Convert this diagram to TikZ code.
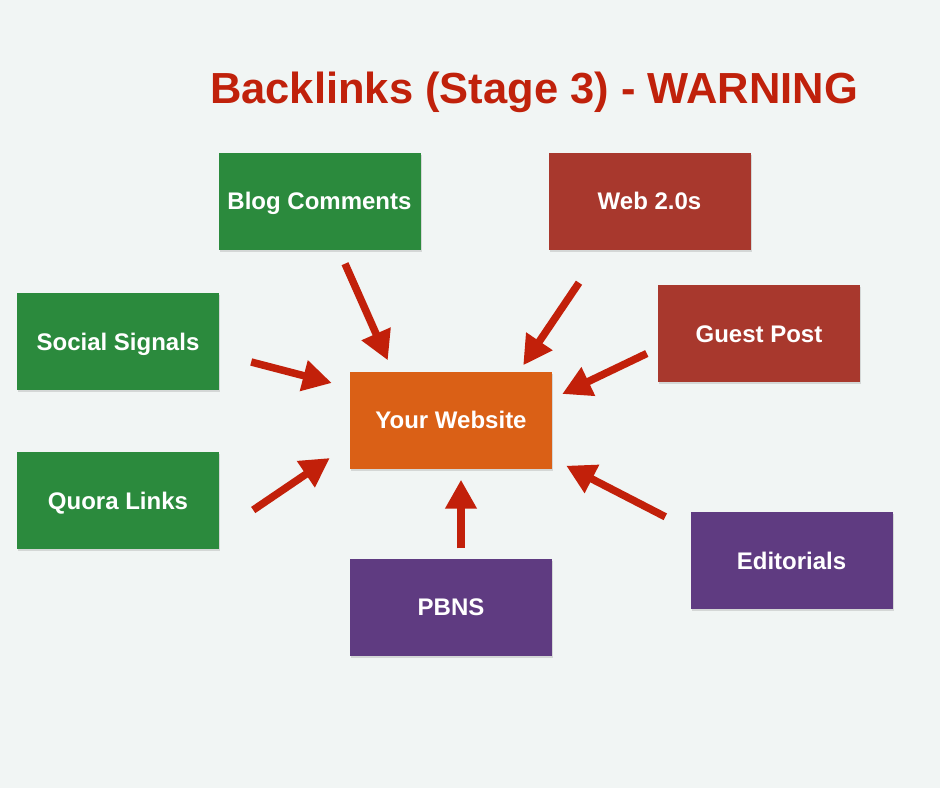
\documentclass[tikz,border=0pt]{standalone}
\usepackage{fontspec}
\setmainfont{Liberation Sans}
\usetikzlibrary{arrows.meta,calc,shadows}

\definecolor{bgcol}{HTML}{F1F5F4}
\definecolor{titlered}{HTML}{C0210B}
\definecolor{arrowred}{HTML}{C2200A}
\definecolor{boxgreen}{HTML}{2B8A3D}
\definecolor{boxbrick}{HTML}{A8382D}
\definecolor{boxorange}{HTML}{DA6016}
\definecolor{boxpurple}{HTML}{5F3B81}

\begin{document}
\begin{tikzpicture}[x=1pt,y=-1pt,
    box/.style={rectangle, minimum width=202pt, minimum height=97pt, inner sep=0pt,
      text height=17.5pt, text depth=0pt,
      text=white, font=\fontsize{24}{28}\selectfont\bfseries,
      drop shadow={shadow xshift=1pt, shadow yshift=-2pt, opacity=0.25}},
    link/.style={line width=7.5pt, arrowred, -{Triangle[length=29pt,width=30pt]}}]
    \fill[bgcol] (0,0) rectangle (940,788); % background
    \node[anchor=base, text=titlered, font=\fontsize{43.5}{50}\selectfont\bfseries] (title) at (534,103.5) {Backlinks (Stage 3) - WARNING}; % title

    \node[box, fill=boxorange] (site) at (451,420) {Your Website}; % center
    \node[box, fill=boxgreen] (blog) at (319.5,201) {Blog Comments};
    \node[box, fill=boxbrick] (web) at (649.5,201) {Web 2.0s};
    \node[box, fill=boxgreen] (social) at (118,341.5) {Social Signals};
    \node[box, fill=boxbrick] (guest) at (759,333.5) {Guest Post};
    \node[box, fill=boxgreen] (quora) at (118,500.5) {Quora Links};
    \node[box, fill=boxpurple] (pbns) at (451,607) {PBNS};
    \node[box, fill=boxpurple] (edit) at (791.5,560.5) {Editorials};

    \draw[link] ($(blog.south)+(25.5,14)$) -- ($(site.north west)+(38,-11)$); % blog comments
    \draw[link] ($(web.south)+(-70.5,33)$) -- ($(site.north east)+(-29,-6)$); % web 2.0s
    \draw[link] ($(guest.west)+(-11,20)$) -- ($(site.east)+(10,-26)$); % guest post
    \draw[link] ($(social.east)+(32,20.5)$) -- ($(site.west)+(-18,-37)$); % social signals
    \draw[link] ($(quora.east)+(34,9.5)$) -- ($(site.west)+(-20,38)$); % quora links
    \draw[link] ($(pbns.north)+(10,-10)$) -- ($(site.south)+(10,11)$); % pbns
    \draw[link] ($(edit.north west)+(-25,5)$) -- ($(site.south east)+(14,-3)$); % editorials
\end{tikzpicture}
\end{document}
